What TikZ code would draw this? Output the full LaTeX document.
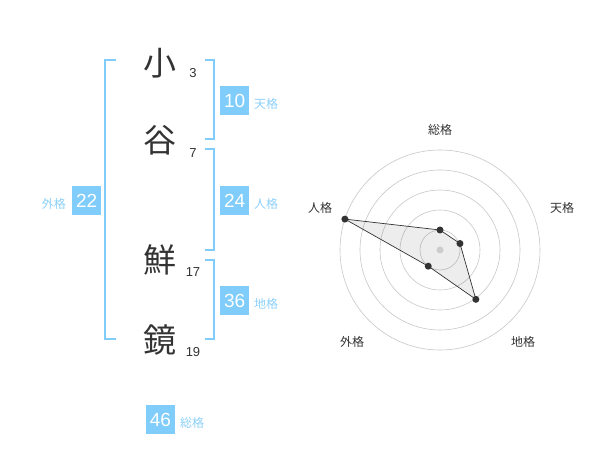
\documentclass[tikz,border=0pt]{standalone}
\usepackage{fontspec}
\setmainfont{Liberation Sans}
\newfontfamily\jp{Noto Sans CJK JP}
\definecolor{kblue}{HTML}{80CCFA}
\definecolor{klab}{HTML}{8CD0F8}
\definecolor{kdark}{HTML}{333333}
\begin{document}
\begin{tikzpicture}[x=1pt,y=-1pt,
  kanji/.style={font=\jp\fontsize{33}{33}\selectfont, text=kdark, inner sep=0},
  strokes/.style={font=\fontsize{13}{13}\selectfont, text=kdark, inner sep=0},
  vbox/.style={fill=kblue, text=white, minimum width=29pt, minimum height=29pt, inner sep=0, font=\fontsize{19}{19}\selectfont},
  vlab/.style={font=\jp\fontsize{12}{12}\selectfont, text=klab, inner sep=0},
  brk/.style={draw=kblue, line width=1.6pt},
  ring/.style={draw=black!22, line width=0.6pt},
  axlab/.style={font=\jp\fontsize{12}{12}\selectfont, text=kdark, inner sep=0},
  dot/.style={circle, fill=kdark, inner sep=0, minimum size=7pt}
]
\useasboundingbox (0,0) rectangle (600,470);
% characters
\node[kanji] (c1) at (160,63) {小};
\node[kanji] (c2) at (160,140) {谷};
\node[kanji] (c3) at (160,260) {鮮};
\node[kanji] (c4) at (160,340) {鏡};
\node[strokes] (s1) at (193,73) {3};
\node[strokes] (s2) at (193,153) {7};
\node[strokes] (s3) at (193,272) {17};
\node[strokes] (s4) at (193,352) {19};
% brackets
\coordinate (la) at (116,60); \coordinate (lb) at (116,339);
\draw[brk] (la) -| (105,339) -- (lb);
\coordinate (ta) at (205,60); \coordinate (tb) at (205,139);
\draw[brk] (ta) -| (214,139) -- (tb);
\coordinate (ja) at (205,149); \coordinate (jb) at (205,250);
\draw[brk] (ja) -| (214,250) -- (jb);
\coordinate (ca) at (205,260); \coordinate (cb) at (205,339);
\draw[brk] (ca) -| (214,339) -- (cb);
% values
\node[vbox] (v1) at (234.7,100.5) {10};
\node[vlab, anchor=west] (l1) at (254,104) {天格};
\node[vbox] (v2) at (234.7,200.5) {24};
\node[vlab, anchor=west] (l2) at (254,204) {人格};
\node[vbox] (v3) at (234.7,300.5) {36};
\node[vlab, anchor=west] (l3) at (254,304) {地格};
\node[vbox] (v4) at (86.7,200.5) {22};
\node[vlab, anchor=east] (l4) at (66,204) {外格};
\node[vbox] (v5) at (160.5,419.5) {46};
\node[vlab, anchor=west] (l5) at (180,423) {総格};
% radar
\begin{scope}[shift={(440,250)}, y=1pt]
  \foreach \r in {20,40,60,80,100} \draw[ring] (0,0) circle (\r);
  \coordinate (q1) at (90:20);
  \coordinate (q2) at (18:21);
  \coordinate (q3) at (-54:61);
  \coordinate (q4) at (-126:20);
  \coordinate (q5) at (162:100);
  \fill[black, opacity=0.07] (q1) -- (q2) -- (q3) -- (q4) -- (q5) -- cycle;
  \node[circle, fill=black!20, inner sep=0, minimum size=7pt] (ctr) at (0,0) {};
  \draw[kdark, line width=0.7pt] (q1) -- (q2) -- (q3) -- (q4) -- (q5) -- cycle;
  \foreach \i in {1,...,5} \node[dot] (d\i) at (q\i) {};
\end{scope}
\node[axlab] (a1) at (440,130) {総格};
\node[axlab] (a2) at (562,208) {天格};
\node[axlab] (a3) at (523,342) {地格};
\node[axlab] (a4) at (352,342) {外格};
\node[axlab] (a5) at (320,208) {人格};
\end{tikzpicture}
\end{document}
